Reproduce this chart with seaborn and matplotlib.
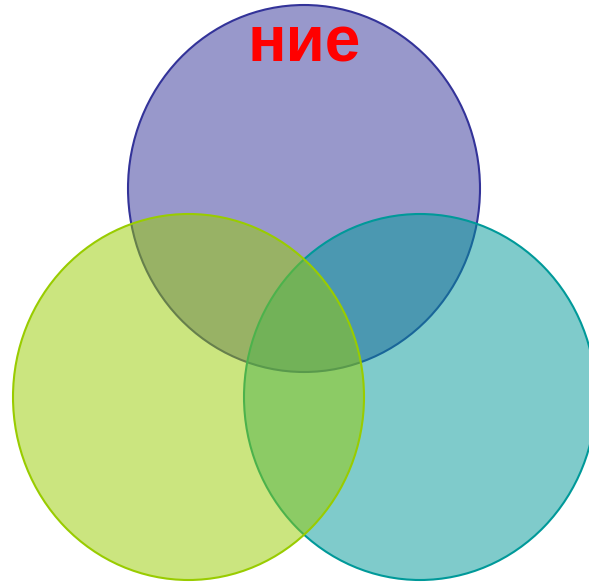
import matplotlib
matplotlib.use("Agg")
import matplotlib.pyplot as plt
from matplotlib.patches import Ellipse
import seaborn as sns
import pandas as pd

# Data
sets = ["purple", "teal", "green"]
center_x = [304, 420, 188.5]
center_y = [188.5, 397, 397]
widths = [352, 352, 351]
heights = [367, 366, 366]
fill_colors = ["#333399", "#009999", "#99cc00"]
edge_colors = ["#333399", "#009999", "#99cc00"]
title_text = "ние"

df = pd.DataFrame({"set": sets, "x": center_x, "y": center_y,
                   "w": widths, "h": heights,
                   "fill": fill_colors, "edge": edge_colors})

sns.set_theme(style="white")
plt.rcParams['font.family'] = ['Liberation Sans', 'DejaVu Sans']

fig = plt.figure(figsize=(5.89, 5.82), dpi=100)
ax = fig.add_axes([0, 0, 1, 1])
ax.set_xlim(0, 589)
ax.set_ylim(582, 0)
ax.axis("off")

for i, r in df.iterrows():
    ax.add_patch(Ellipse((r.x, r.y), r.w, r.h, facecolor=r.fill, alpha=0.5,
                         edgecolor="none", zorder=2 + 2 * i))
    ax.add_patch(Ellipse((r.x, r.y), r.w, r.h, facecolor="none",
                         edgecolor=r.edge, linewidth=1.5, zorder=3 + 2 * i))

ax.text(304, 61, title_text, color="#ff0000", fontsize=46, fontweight="bold",
        ha="center", va="baseline", zorder=20)

fig.savefig("out.png", dpi=100)
